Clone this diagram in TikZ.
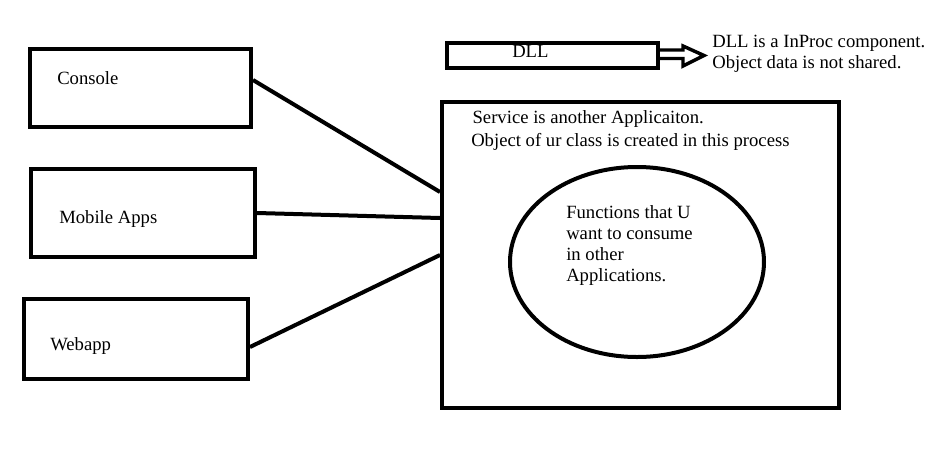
\documentclass[tikz,border=0pt]{standalone}
\usepackage{fontspec}
\setmainfont{Liberation Serif}
\usetikzlibrary{arrows.meta,shapes.geometric,calc}

\begin{document}
\begin{tikzpicture}[x=0.75pt,y=0.75pt,yscale=-1,
  box/.style={draw, line width=3pt, inner sep=0pt},
  wire/.style={line width=3pt},
  txt/.style={inner sep=0pt, align=left, font=\fontsize{14}{15.75}\selectfont}]
\useasboundingbox (0,0) rectangle (936,454);

%Shape: Rectangle
\draw (140.5,88) node (console) [box, minimum width=165.75pt, minimum height=58.5pt] {};
%Shape: Rectangle
\draw (143,213) node (mobile) [box, minimum width=168pt, minimum height=66pt] {};
%Shape: Rectangle
\draw (136,339) node (webapp) [box, minimum width=168pt, minimum height=60pt] {};
%Shape: Rectangle
\draw (640.5,255) node (service) [box, minimum width=297.75pt, minimum height=229.5pt] {};
%Shape: Ellipse
\draw (637,262) node (funcs) [box, ellipse, minimum width=190.5pt, minimum height=142.5pt] {};
%Shape: Rectangle
\draw (552.5,55.5) node (dll) [box, minimum width=158.25pt, minimum height=18.75pt] {};

% Text Node
\draw (57,84) node (consoletxt) [txt, anchor=base west] {Console};
% Text Node
\draw (59,223) node (mobiletxt) [txt, anchor=base west] {Mobile Apps};
% Text Node
\draw (50,350) node (webapptxt) [txt, anchor=base west] {Webapp};
% Text Node
\draw (512,57) node (dlltxt) [txt, anchor=base west] {DLL};
% Text Node
\draw (712,35) node (note) [txt, anchor=north west] {DLL is a InProc component.\\Object data is not shared.};
% Text Node
\draw (471,110.5) node (servicetxt) [txt, anchor=north west, font=\fontsize{14}{17.25}\selectfont] {\hspace{1pt}Service is another Applicaiton.\\Object of ur class is created in this process};
% Text Node
\draw (566,205.5) node (funcstxt) [txt, anchor=north west] {Functions that U\\want to consume\\in other\\Applications.};

%Straight Lines
\draw [wire] ($(console.east)+(0,-8)$) -- ($(service.west)+(0,-63)$);
%Straight Lines
\draw [wire] (mobile.east) -- ($(service.west)+(0,-37)$);
%Straight Lines
\draw [wire] ($(webapp.east)+(0,8)$) -- (service.west);
%Hollow Arrow
\draw [line width=2.6pt, line join=miter] ($(dll.east)+(0,-5.5)$) -- ++(23,0) -- ++(0,-4) -- ($(note.west |- dll.east)+(-8,0)$) -- ($(dll.east)+(23,10.5)$) -- ++(0,-7.5) -- ++(-23,0);

\end{tikzpicture}
\end{document}
